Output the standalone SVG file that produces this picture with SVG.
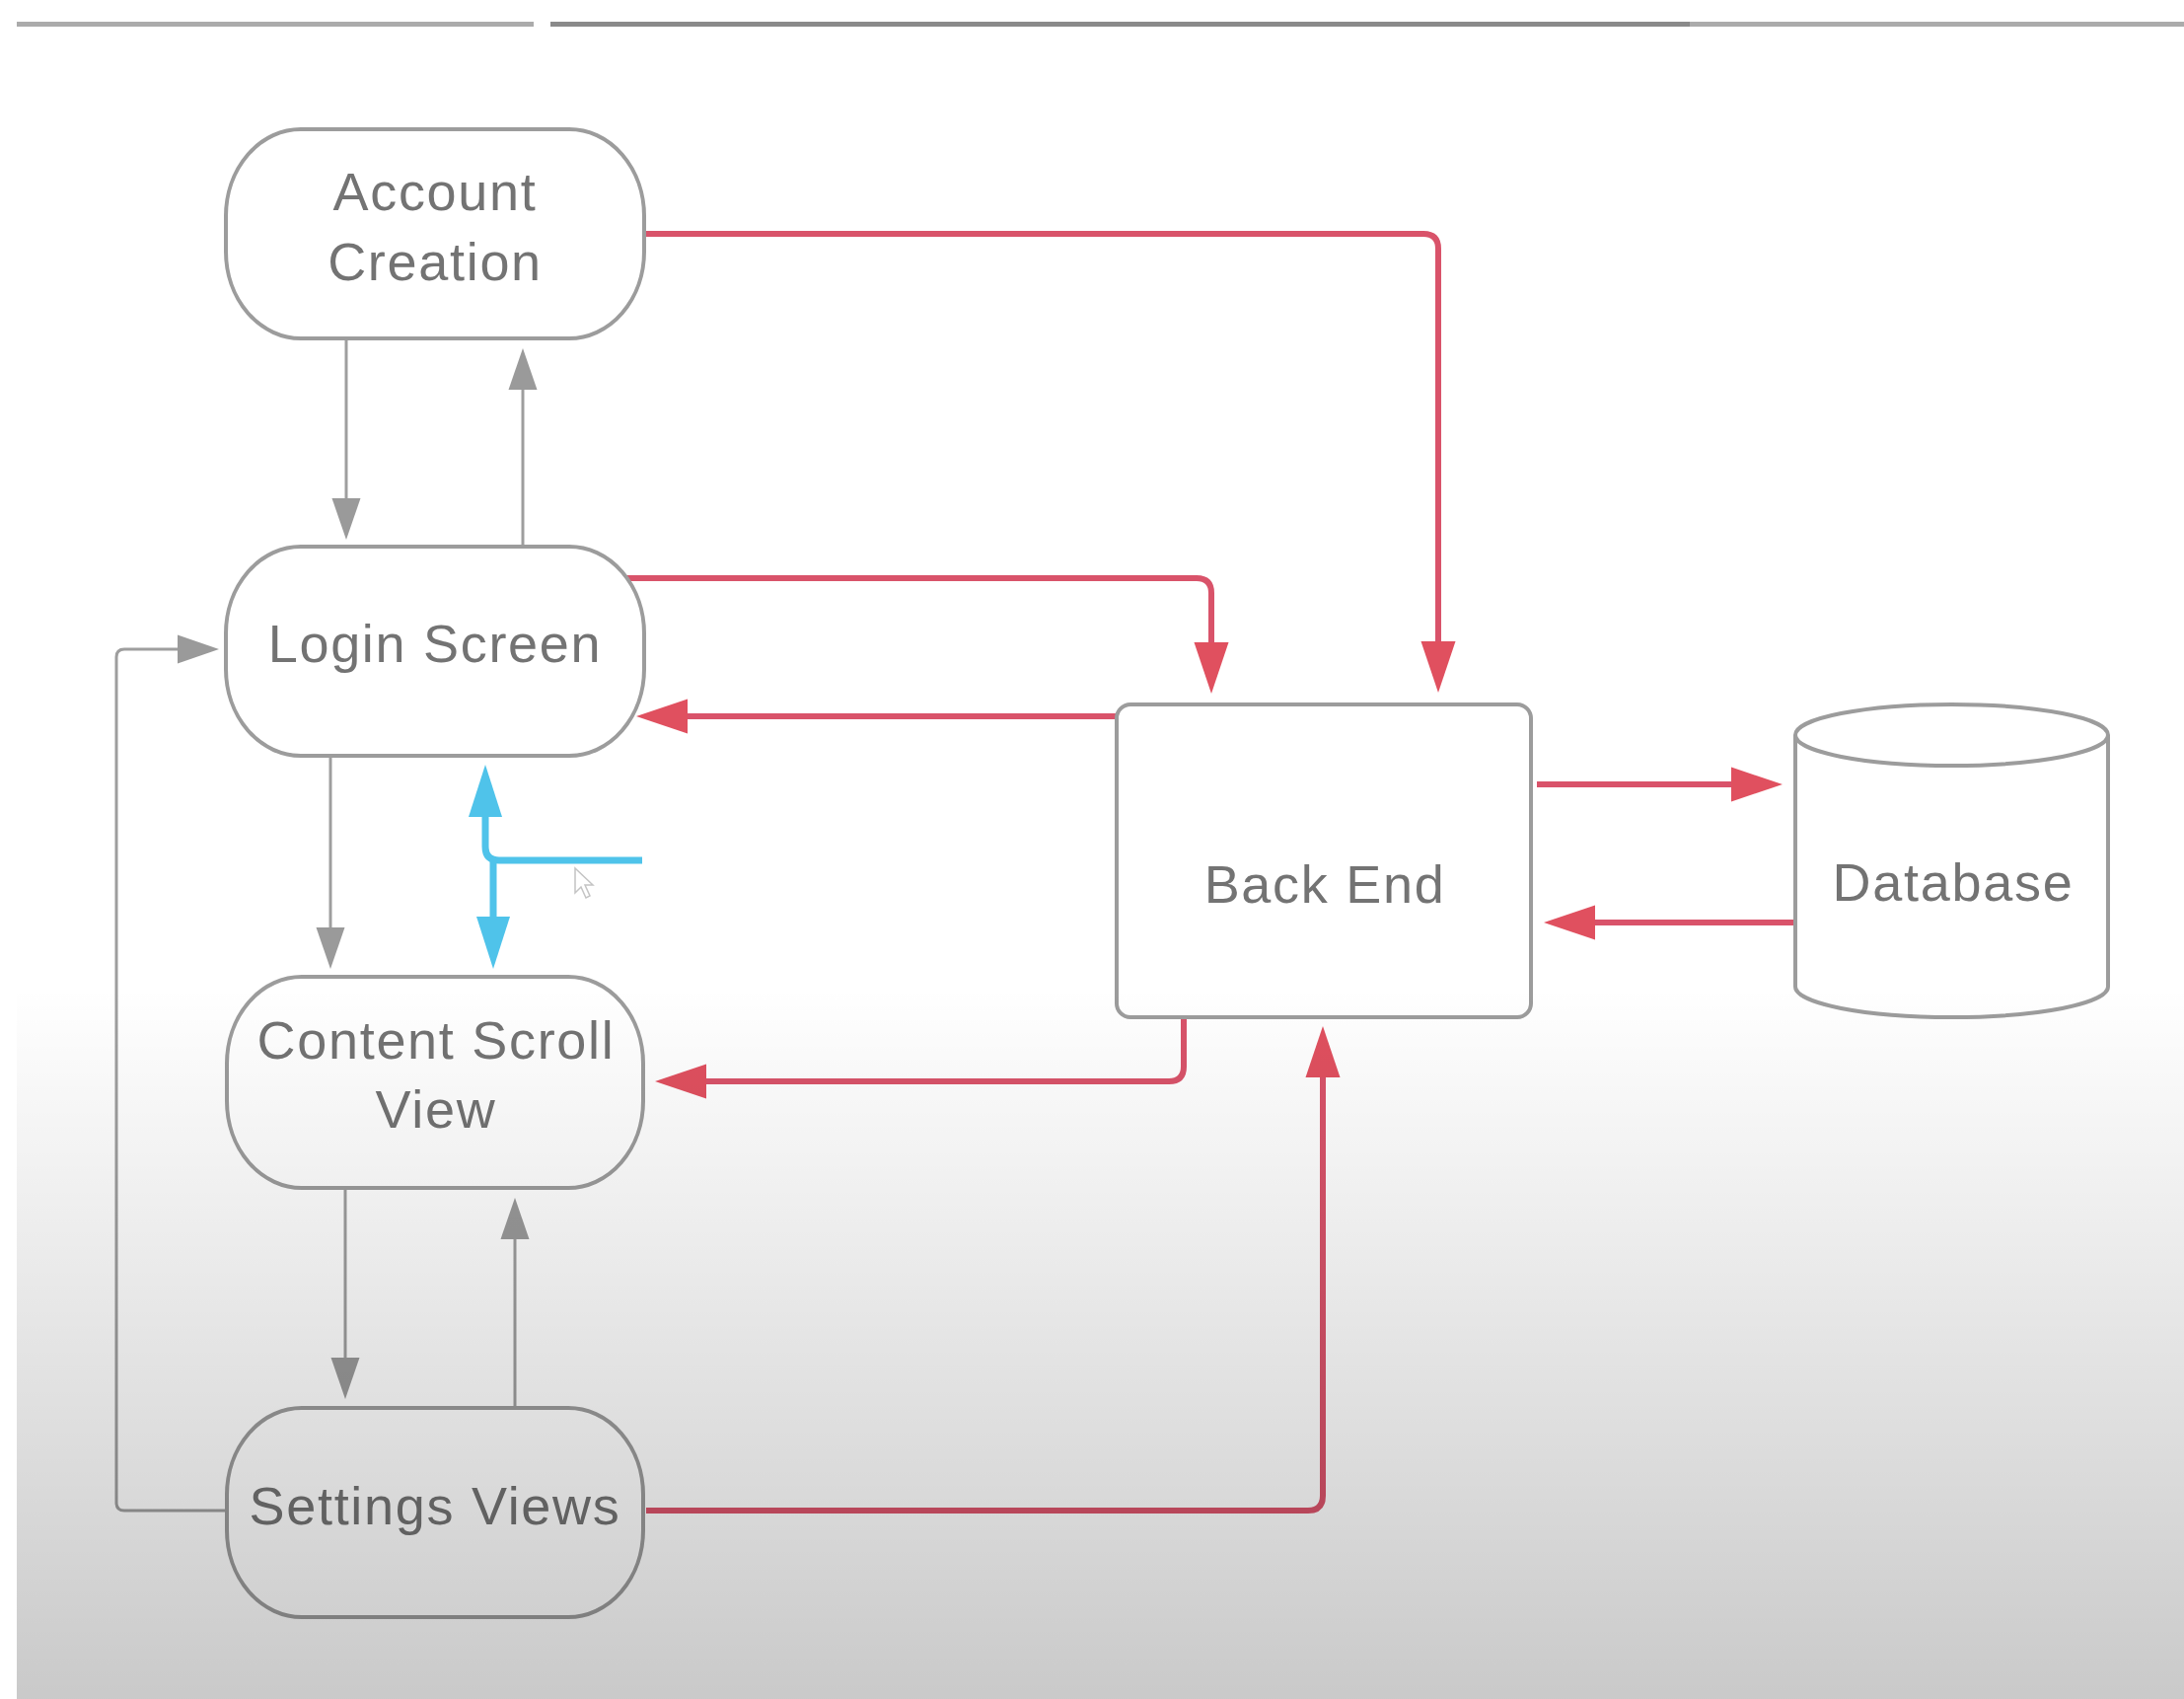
<svg xmlns="http://www.w3.org/2000/svg" width="2214" height="1722" viewBox="0 0 2214 1722">
  <defs>
    <style>
      .node { fill: #ffffff; stroke: #9c9c9c; stroke-width: 4; }
      .label { font-family: "Liberation Sans", Arial, sans-serif; font-size: 54px; letter-spacing: 1.7px; fill: #737373; text-anchor: middle; }
      .gray { fill: none; stroke: #9e9e9e; stroke-width: 3; }
      .red { fill: none; stroke: #d9536a; stroke-width: 6; }
      .blue { fill: none; stroke: #4fc3ea; stroke-width: 7; }
    </style>
    <marker id="ag" markerUnits="userSpaceOnUse" markerWidth="44" markerHeight="30" refX="0" refY="14.5" orient="auto" overflow="visible">
      <path d="M0,0 L42,14.5 L0,29 Z" fill="#9a9a9a"/>
    </marker>
    <marker id="ar" markerUnits="userSpaceOnUse" markerWidth="54" markerHeight="36" refX="0" refY="17.5" orient="auto" overflow="visible">
      <path d="M0,0 L52,17.5 L0,35 Z" fill="#e0505f"/>
    </marker>
    <marker id="ab" markerUnits="userSpaceOnUse" markerWidth="55" markerHeight="36" refX="0" refY="17" orient="auto" overflow="visible">
      <path d="M0,0 L53,17 L0,34 Z" fill="#4fc3ea"/>
    </marker>
    <linearGradient id="shade" x1="0" y1="1000" x2="0" y2="1722" gradientUnits="userSpaceOnUse">
      <stop offset="0" stop-color="#000" stop-opacity="0"/>
      <stop offset="1" stop-color="#000" stop-opacity="0.21"/>
    </linearGradient>
  </defs>

  <rect x="0" y="0" width="2214" height="1722" fill="#ffffff"/>

  <g id="topbar">
    <rect x="17" y="22" width="524" height="5" fill="#ababab"/>
    <rect x="558" y="22" width="1155" height="5" fill="#8a8a8a"/>
    <rect x="1713" y="22" width="501" height="5" fill="#ababab"/>
  </g>

  <g id="connectors">
    <path class="gray" d="M351,343 V505" marker-end="url(#ag)"/>
    <path class="gray" d="M530,553 V395" marker-end="url(#ag)"/>
    <path class="gray" d="M335,767 V940" marker-end="url(#ag)"/>
    <path class="gray" d="M350,1204 V1376" marker-end="url(#ag)"/>
    <path class="gray" d="M522,1427 V1256" marker-end="url(#ag)"/>
    <path class="gray" d="M230,1531 H126 Q118,1531 118,1523 V666 Q118,658 126,658 H180" marker-end="url(#ag)"/>

    <path class="red" d="M655,237 H1443 Q1458,237 1458,252 V650" marker-end="url(#ar)"/>
    <path class="red" d="M632,586 H1213 Q1228,586 1228,601 V651" marker-end="url(#ar)"/>
    <path class="red" d="M1132,726 H697" marker-end="url(#ar)"/>
    <path class="red" d="M1558,795 H1755" marker-end="url(#ar)"/>
    <path class="red" d="M1819,935 H1617" marker-end="url(#ar)"/>
    <path class="red" d="M1200,1031 V1081 Q1200,1096 1185,1096 H716" marker-end="url(#ar)"/>
    <path class="red" d="M655,1531 H1326 Q1341,1531 1341,1516 V1092" marker-end="url(#ar)"/>

    <path class="blue" d="M651,872 H506 Q492,872 492,858 V828" marker-end="url(#ab)"/>
    <path class="blue" d="M500,872 V929" marker-end="url(#ab)"/>
  </g>

  <g id="account-creation">
    <rect class="node" x="229" y="131" width="424" height="212" rx="76" ry="88"/>
    <text class="label" x="441" y="213">Account</text>
    <text class="label" x="441" y="284">Creation</text>
  </g>

  <g id="login-screen">
    <rect class="node" x="229" y="554" width="424" height="212" rx="76" ry="88"/>
    <text class="label" x="441" y="671">Login Screen</text>
  </g>

  <g id="content-scroll-view">
    <rect class="node" x="230" y="990" width="422" height="214" rx="76" ry="88"/>
    <text class="label" x="442" y="1073">Content Scroll</text>
    <text class="label" x="442" y="1143">View</text>
  </g>

  <g id="settings-views">
    <rect class="node" x="230" y="1427" width="422" height="212" rx="76" ry="88"/>
    <text class="label" x="441" y="1545">Settings Views</text>
  </g>

  <g id="back-end">
    <rect class="node" x="1132" y="714" width="420" height="317" rx="14" ry="14"/>
    <text class="label" x="1343" y="915">Back End</text>
  </g>

  <g id="database">
    <path class="node" d="M1820,745 V1000 A158.5,31 0 0 0 2137,1000 V745"/>
    <ellipse class="node" cx="1978.5" cy="745" rx="158.5" ry="31"/>
    <text class="label" x="1980" y="913">Database</text>
  </g>

  <g id="cursor">
    <path d="M583,880 L583,905 L589,899 L594,910 L598,908 L593,897 L601,897 Z" fill="#ffffff" stroke="#c4c4c4" stroke-width="1.5"/>
  </g>

  <rect x="17" y="1000" width="2197" height="722" fill="url(#shade)"/>
</svg>
